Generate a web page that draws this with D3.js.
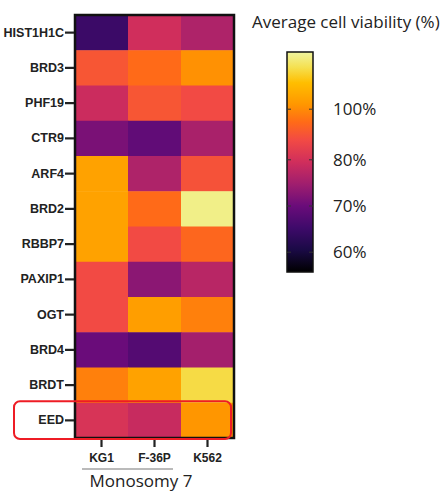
<!DOCTYPE html>
<html>
<head>
<meta charset="utf-8">
<script src="https://cdn.jsdelivr.net/npm/d3@7"></script>
<style>
  body { margin: 0; background: #fff; }
  svg { display: block; }
  .rowlab, .collab { font-family: "Liberation Sans", Arial, sans-serif; font-weight: bold; font-size: 12.5px; fill: #222; }
  .collab { font-size: 12px; }
  .legtext { font-family: "Open Sans", "Noto Sans", sans-serif; font-size: 17px; fill: #222; }
</style>
</head>
<body>
<svg id="chart" width="448" height="491"></svg>
<script>
var genes = ['HIST1H1C', 'BRD3', 'PHF19', 'CTR9', 'ARF4', 'BRD2', 'RBBP7', 'PAXIP1', 'OGT', 'BRD4', 'BRDT', 'EED'];
var cells = ['KG1', 'F-36P', 'K562'];
// average cell viability (%), one array per cell line, in gene order
var kg1   = [64.8, 90.4, 79.0, 71.4, 102.9, 102.9, 102.9, 87.8, 87.8, 70.0, 98.3, 80.9];
var f36p  = [79.5, 94.8, 90.4, 69.0, 76.2, 94.8, 87.8, 72.9, 102.3, 67.6, 102.9, 78.6];
var k562  = [76.2, 100.6, 87.8, 75.7, 89.6, 113.8, 93.9, 77.1, 98.3, 75.2, 110.4, 101.2];
var legendTicks = [60, 70, 80, 100];
var legendLabels = ['60%', '70%', '80%', '100%'];

// colour ramp as it appears in the figure (inferno-like, more saturated)
var rampStops = [0, 0.1, 0.2, 0.3, 0.4, 0.5, 0.6, 0.68, 0.76, 0.86, 0.93, 1];
var rampColors = ['#000000', '#1a0a45', '#3e0a6a', '#6a0c7a', '#a01e6e', '#d02e5c', '#f24a44', '#ff6a18', '#ff9600', '#ffbe00', '#f5e050', '#f0f5a0'];

var series = [kg1, f36p, k562];
var table = [];
genes.forEach(function (g, i) {
    cells.forEach(function (c, j) {
        table.push({gene: g, cell: c, value: series[j][i]});
    });
});

var ramp = d3.scaleLinear().domain(rampStops).range(rampColors).interpolate(d3.interpolateRgb);
// the colour bar is not linear in value, so map value -> ramp position piecewise
var toT = d3.scaleLinear()
    .domain([55, 60, 70, 80, 100, 115])
    .range([0, 0.09, 0.3, 0.51, 0.74, 1])
    .clamp(true);
var color = function (v) { return ramp(toT(v)); };

var svg = d3.select('#chart');
var margin = {left: 75, top: 15, width: 159, height: 423};

var x = d3.scaleBand().domain(cells).range([margin.left, margin.left + margin.width]);
var y = d3.scaleBand().domain(genes).range([margin.top, margin.top + margin.height]);

svg.append('g')
    .selectAll('rect')
    .data(table)
    .enter().append('rect')
    .attr('x', function (d) { return x(d.cell); })
    .attr('y', function (d) { return y(d.gene); })
    .attr('width', x.bandwidth() + 0.5)
    .attr('height', y.bandwidth() + 0.5)
    .attr('fill', function (d) { return color(d.value); });

// frame
svg.append('rect')
    .attr('x', margin.left)
    .attr('y', margin.top)
    .attr('width', margin.width)
    .attr('height', margin.height)
    .attr('fill', 'none')
    .attr('stroke', '#111')
    .attr('stroke-width', 2.5);

// left axis
var yAxis = svg.append('g')
    .attr('transform', 'translate(' + (margin.left - 1) + ',0)')
    .call(d3.axisLeft(y).tickSize(9).tickPadding(1));
yAxis.select('.domain').remove();
yAxis.selectAll('line').attr('stroke', '#222').attr('stroke-width', 2.2);
yAxis.selectAll('text').attr('class', 'rowlab').attr('font-family', null).attr('font-size', null).attr('fill', null);

// bottom axis
var xAxis = svg.append('g')
    .attr('transform', 'translate(0,' + (margin.top + margin.height + 1) + ')')
    .call(d3.axisBottom(x).tickSize(8).tickPadding(6));
xAxis.select('.domain').remove();
xAxis.selectAll('line').attr('stroke', '#222').attr('stroke-width', 2.2);
xAxis.selectAll('text').attr('class', 'collab').attr('font-family', null).attr('font-size', null).attr('fill', null);

// Monosomy 7 bracket
svg.append('line')
    .attr('x1', 82).attr('x2', 173)
    .attr('y1', 469).attr('y2', 469)
    .attr('stroke', '#777').attr('stroke-width', 1.2);
svg.append('text')
    .attr('class', 'legtext')
    .attr('x', 141).attr('y', 487)
    .attr('text-anchor', 'middle')
    .text('Monosomy 7');

// highlight EED row
svg.append('rect')
    .attr('x', 14)
    .attr('y', y('EED') - 1.5)
    .attr('width', 217)
    .attr('height', y.bandwidth() + 2.5)
    .attr('rx', 6)
    .attr('fill', 'none')
    .attr('stroke', '#ee1c25')
    .attr('stroke-width', 2);

// colour legend
svg.append('text')
    .attr('class', 'legtext')
    .attr('x', 252).attr('y', 28)
    .text('Average cell viability (%)');

var bar = {x: 287, y: 52, w: 26, h: 220};
var defs = svg.append('defs');
var grad = defs.append('linearGradient')
    .attr('id', 'ramp')
    .attr('x1', 0).attr('y1', 1).attr('x2', 0).attr('y2', 0);
rampStops.forEach(function (t, i) {
    grad.append('stop')
        .attr('offset', t)
        .attr('stop-color', rampColors[i]);
});
svg.append('rect')
    .attr('x', bar.x).attr('y', bar.y)
    .attr('width', bar.w).attr('height', bar.h)
    .attr('fill', 'url(#ramp)')
    .attr('stroke', '#111').attr('stroke-width', 1.5);

var legY = function (v) { return bar.y + bar.h * (1 - toT(v)); };
legendTicks.forEach(function (v, i) {
    var yy = legY(v);
    svg.append('line').attr('x1', bar.x).attr('x2', bar.x + 4).attr('y1', yy).attr('y2', yy).attr('stroke', '#333');
    svg.append('line').attr('x1', bar.x + bar.w - 4).attr('x2', bar.x + bar.w).attr('y1', yy).attr('y2', yy).attr('stroke', '#333');
    svg.append('text')
        .attr('class', 'legtext')
        .attr('x', 333).attr('y', yy)
        .attr('dy', '0.35em')
        .text(legendLabels[i]);
});
</script>
</body>
</html>
